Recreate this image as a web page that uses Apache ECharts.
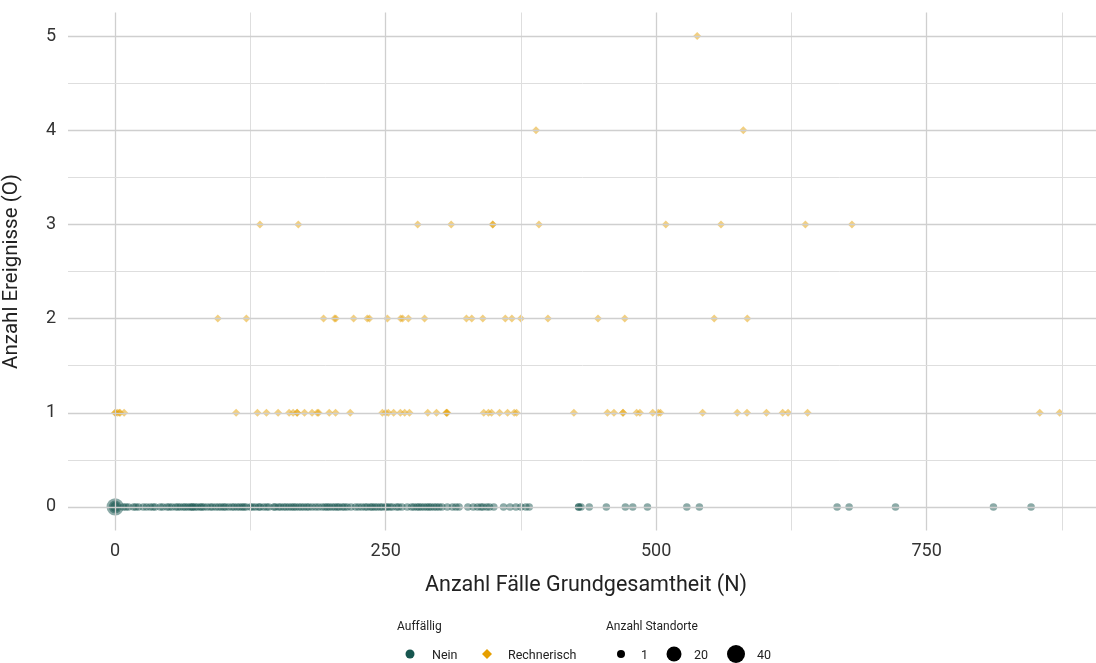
<!DOCTYPE html>
<html>
<head>
<meta charset="utf-8">
<script src="https://cdn.jsdelivr.net/npm/echarts@6/dist/echarts.min.js"></script>
<style>html,body{margin:0;padding:0;background:#fff;}#c{width:1096px;height:663px;}</style>
</head>
<body>
<div id="c"></div>
<script>
// ---- data ----
// Auffällig = Nein (all at O = 0): N values and site counts
const neinN = [0, 0, 0,
  7.7,10,12.3,17,19,21.6,26,29,32.4,35,37,41.7,44,47.9,50,52.5,56,58,60.2,63,64.8,67,69.4,71,72,74,76,78.7,80,82,85,88,90,93,95.6,98,100.3,102,104.9,108,110,112.7,115,117.3,119,121,125,127,129.6,
  132.7,134,137.3,140,142,146.6,148,151,153,155.8,158,160.5,163,165,167,169.7,172,174.4,177,179,182,185.2,188,191.4,194,196,198,200.6,203,205.3,207,210,212,214.5,218,222.2,225,228,231,233,236,237.7,240,242.3,245,247,250,251.6,254,256.2,260,262,265,270,
  274,276.2,279,280.8,283,285.5,288,290,292,294.7,297,299.4,302,307,311.8,315,317.9,326,331,334.9,338,340,343.5,346,350,359,365,370.4,375,379.6,382.7,
  428.4,428.4,430.6,438.2,454,471.6,478.4,492,528.4,540,
  667.3,678.4,721.3,811.8,846.6];
const neinSites = [38, 12, 3].concat(neinN.slice(3).map(() => 1));

// Auffällig = Rechnerisch: N values per O level
const rechO1 = [0,0,1.9,3.7,4.6,8.3,111.8,131.5,139.8,150.6,160.8,164.5,168.2,168.2,175,182,186.8,188,197.9,203.7,217.3,247,250,252.5,257.4,263.6,267.6,272,288.9,297,306.2,306.2,307,340.7,345,347.9,355.3,362.7,368.8,371,424,455,461,469.4,469.4,482,485,496.9,502,504,543,575,584,602,617,622,640,854.6,873];
const rechO2 = [94.9,121.3,192.6,202.8,204,220.4,233,235,251.6,263.9,265.7,271,286,324.7,329.6,339.8,360.6,366.7,375,400,446.3,471,553.7,584.3];
const rechO3 = [133.8,169.3,279.6,310.6,349,349,391.7,509,560,638,681];
const rechO4 = [389,580.6];
const rechO5 = [538];

const xTicks = [0, 250, 500, 750];
const xMinor = [125, 375, 625, 875];
const yTicks = [0, 1, 2, 3, 4, 5];
const yMinor = [0.5, 1.5, 2.5, 3.5, 4.5];

const sizeLegendValues = [1, 20, 40];
const catNames = ['Nein', 'Rechnerisch'];
const catColors = ['#17564F', '#E69F00'];

// ---- build ----
const maxSites = 40;
function dia(n) { return 7.5 + 10 * Math.sqrt(Math.max(0, n - 1) / (maxSites - 1)); }

const neinData = neinN.map((x, i) => [x, 0, neinSites[i]]);
const rechData = [];
[[rechO1,1],[rechO2,2],[rechO3,3],[rechO4,4],[rechO5,5]].forEach(([arr,o]) => arr.forEach(x => rechData.push([x, o, 1])));

const FONT = 'Roboto, "Noto Sans", sans-serif';
const gridLines = [];
xTicks.forEach(v => gridLines.push({xAxis: v, lineStyle: {color: '#cfcfcf', width: 1.3, type: 'solid'}}));
xMinor.forEach(v => gridLines.push({xAxis: v, lineStyle: {color: '#dedede', width: 1, type: 'solid'}}));
yTicks.forEach(v => gridLines.push({yAxis: v, lineStyle: {color: '#cfcfcf', width: 1.3, type: 'solid'}}));
yMinor.forEach(v => gridLines.push({yAxis: v, lineStyle: {color: '#dedede', width: 1, type: 'solid'}}));

const chart = echarts.init(document.getElementById('c'), null, {renderer: 'canvas'});

const graphics = [
  {type: 'text', left: 397, top: 621, style: {text: 'Auffällig', font: '12px ' + FONT, fill: '#222'}},
  {type: 'circle', shape: {cx: 410, cy: 654, r: 4.5}, style: {fill: catColors[0]}},
  {type: 'text', left: 432, top: 649, style: {text: catNames[0], font: '12.5px ' + FONT, fill: '#222'}},
  {type: 'polygon', shape: {points: [[487, 649], [492, 654], [487, 659], [482, 654]]}, style: {fill: catColors[1]}},
  {type: 'text', left: 508, top: 649, style: {text: catNames[1], font: '12.5px ' + FONT, fill: '#222'}},
  {type: 'text', left: 606, top: 621, style: {text: 'Anzahl Standorte', font: '12px ' + FONT, fill: '#222'}}
];
const sizeLegX = [621, 674, 736];
const sizeTxtX = [641, 694, 757];
sizeLegendValues.forEach((v, i) => {
  graphics.push({type: 'circle', shape: {cx: sizeLegX[i], cy: 654, r: (dia(v) + 0.5) / 2}, style: {fill: '#000'}});
  graphics.push({type: 'text', left: sizeTxtX[i], top: 649, style: {text: String(v), font: '12.5px ' + FONT, fill: '#222'}});
});

chart.setOption({
  animation: false,
  backgroundColor: '#fff',
  textStyle: {fontFamily: FONT},
  grid: {left: 68, right: -8, top: 12.5, bottom: 132.5, containLabel: false, outerBoundsMode: 'none'},
  xAxis: {
    type: 'value', min: -43.6, max: 914,
    name: 'Anzahl Fälle Grundgesamtheit (N)', nameLocation: 'middle', nameGap: 44,
    nameTextStyle: {fontSize: 21.5, color: '#222', fontFamily: FONT},
    axisLine: {show: false}, axisTick: {show: false}, splitLine: {show: false},
    axisLabel: {customValues: xTicks, fontSize: 18, color: '#333', margin: 12, fontFamily: FONT}
  },
  yAxis: {
    type: 'value', min: -0.25, max: 5.25,
    name: 'Anzahl Ereignisse (O)', nameLocation: 'middle', nameGap: 46, nameRotate: 90,
    nameTextStyle: {fontSize: 20.5, color: '#222', fontFamily: FONT},
    axisLine: {show: false}, axisTick: {show: false}, splitLine: {show: false},
    axisLabel: {customValues: yTicks, fontSize: 18, color: '#333', margin: 12, fontFamily: FONT}
  },
  series: [
    {
      type: 'scatter', name: 'grid', data: [], z: 1, silent: true,
      markLine: {silent: true, symbol: 'none', label: {show: false}, animation: false, data: gridLines}
    },
    {
      type: 'scatter', name: catNames[0], data: neinData, z: 3,
      symbol: 'circle', symbolSize: v => dia(v[2]),
      itemStyle: {color: catColors[0], opacity: 0.5}
    },
    {
      type: 'scatter', name: catNames[1], data: rechData, z: 3,
      symbol: 'diamond', symbolSize: v => [dia(v[2]) + 0.5, dia(v[2]) + 0.5],
      itemStyle: {color: catColors[1], opacity: 0.5}
    }
  ],
  graphic: graphics
});
</script>
</body>
</html>
